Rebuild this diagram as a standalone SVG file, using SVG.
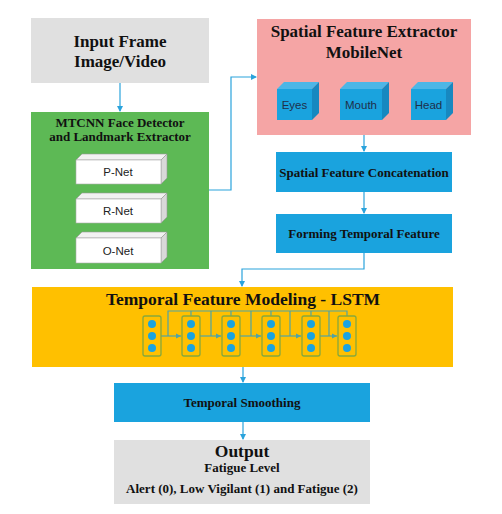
<svg xmlns="http://www.w3.org/2000/svg" width="502" height="514" viewBox="0 0 502 514">
<defs>
<style>
.t{font-family:"Liberation Serif","Times New Roman",serif;font-weight:bold;fill:#111;text-anchor:middle}
.s{font-family:"Liberation Sans",Arial,sans-serif;fill:#222;text-anchor:middle;font-size:11.5px}
.sb{font-family:"Liberation Sans",Arial,sans-serif;fill:#1f2f4a;text-anchor:middle;font-size:11.5px}
.c{stroke:#2aa3dc;stroke-width:1.2;fill:none}
.l{stroke:#4fa3a6;stroke-width:1.2;fill:none}
.cell{fill:#ffc000;stroke:#86a83c;stroke-width:1.3}
.dot{fill:#1aa3e0}
.blue{fill:#1aa3de}
</style>
<marker id="a" markerWidth="6" markerHeight="6" refX="5" refY="3" orient="auto" markerUnits="userSpaceOnUse">
<path d="M0,0 L6,3 L0,6 z" fill="#2aa3dc"/>
</marker>
<marker id="b" markerWidth="6" markerHeight="6" refX="5" refY="3" orient="auto" markerUnits="userSpaceOnUse">
<path d="M0,0.5 L5,3 L0,5.5 z" fill="#4fa3a6"/>
</marker>
</defs>
<rect width="502" height="514" fill="#ffffff"/>

<g id="connectors">
<path class="c" d="M120,83 V111" marker-end="url(#a)"/>
<path class="c" d="M209,190 H231 V77 H256" marker-end="url(#a)"/>
<path class="c" d="M364,135 V151" marker-end="url(#a)"/>
<path class="c" d="M364,192 V213" marker-end="url(#a)"/>
<path class="c" d="M364,253 V269 H242 V286" marker-end="url(#a)"/>
<path class="c" d="M243,367 V382" marker-end="url(#a)"/>
<path class="c" d="M243,422 V439" marker-end="url(#a)"/>
</g>

<g id="input">
<rect x="31" y="18" width="178" height="65" fill="#e0e0e0"/>
<text class="t" x="120" y="47" font-size="17">Input Frame</text>
<text class="t" x="120" y="67" font-size="17">Image/Video</text>
</g>

<g id="mtcnn">
<rect x="31" y="112" width="178" height="157" fill="#5db955"/>
<text class="t" x="120" y="127" font-size="13">MTCNN Face Detector</text>
<text class="t" x="120" y="141" font-size="13">and Landmark Extractor</text>
<g id="pnet">
<path d="M76,160 L82,154 H167 L161,160 z" fill="#f2f2f2" stroke="#999" stroke-width="0.6"/>
<path d="M161,160 L167,154 V178 L161,184 z" fill="#d9d9d9" stroke="#999" stroke-width="0.6"/>
<rect x="76" y="160" width="85" height="24" fill="#fff" stroke="#aaa" stroke-width="0.6"/>
<text class="s" x="118" y="176">P-Net</text>
</g>
<g id="rnet">
<path d="M76,199 L82,193 H167 L161,199 z" fill="#f2f2f2" stroke="#999" stroke-width="0.6"/>
<path d="M161,199 L167,193 V217 L161,223 z" fill="#d9d9d9" stroke="#999" stroke-width="0.6"/>
<rect x="76" y="199" width="85" height="24" fill="#fff" stroke="#aaa" stroke-width="0.6"/>
<text class="s" x="118" y="215">R-Net</text>
</g>
<g id="onet">
<path d="M76,238 L82,232 H167 L161,238 z" fill="#f2f2f2" stroke="#999" stroke-width="0.6"/>
<path d="M161,238 L167,232 V257 L161,263 z" fill="#d9d9d9" stroke="#999" stroke-width="0.6"/>
<rect x="76" y="238" width="85" height="25" fill="#fff" stroke="#aaa" stroke-width="0.6"/>
<text class="s" x="118" y="255">O-Net</text>
</g>
</g>

<g id="spatial">
<rect x="257" y="19" width="214" height="116" fill="#f5a5a5"/>
<text class="t" x="364" y="37" font-size="17">Spatial Feature Extractor</text>
<text class="t" x="364" y="58" font-size="17">MobileNet</text>
<g id="eyes">
<path d="M277,89 L284,82 H319 L312,89 z" fill="#4cb6e6"/>
<path d="M312,89 L319,82 V113 L312,120 z" fill="#1788c0"/>
<rect x="277" y="89" width="35" height="31" class="blue"/>
<text class="sb" x="294.5" y="109">Eyes</text>
</g>
<g id="mouth">
<path d="M340,89 L347,82 H389 L382,89 z" fill="#4cb6e6"/>
<path d="M382,89 L389,82 V113 L382,120 z" fill="#1788c0"/>
<rect x="340" y="89" width="42" height="31" class="blue"/>
<text class="sb" x="361" y="109">Mouth</text>
</g>
<g id="head">
<path d="M411,89 L418,82 H453 L446,89 z" fill="#4cb6e6"/>
<path d="M446,89 L453,82 V113 L446,120 z" fill="#1788c0"/>
<rect x="411" y="89" width="35" height="31" class="blue"/>
<text class="sb" x="428.5" y="109">Head</text>
</g>
</g>

<g id="concat">
<rect x="276" y="152" width="176" height="40" class="blue"/>
<text class="t" x="364" y="177" font-size="13">Spatial Feature Concatenation</text>
</g>

<g id="forming">
<rect x="276" y="214" width="176" height="39" class="blue"/>
<text class="t" x="364" y="238" font-size="13">Forming Temporal Feature</text>
</g>

<g id="lstm">
<rect x="32" y="287" width="421" height="80" fill="#ffc000"/>
<text class="t" x="243" y="305" font-size="17.5">Temporal Feature Modeling - LSTM</text>
<g id="lstm-links">
<path class="l" d="M168,336 V311 H347 V316"/>
<path class="l" d="M191,311 V316 M231,311 V316 M271,311 V316 M311,311 V316"/>
<path class="l" d="M211,311 V336 M251,311 V336 M290,311 V336 M329,311 V336"/>
<path class="l" d="M161,336 H181" marker-end="url(#b)"/>
<path class="l" d="M200,336 H221" marker-end="url(#b)"/>
<path class="l" d="M240,336 H261" marker-end="url(#b)"/>
<path class="l" d="M280,336 H301" marker-end="url(#b)"/>
<path class="l" d="M320,336 H337" marker-end="url(#b)"/>
</g>
<g id="cell1"><rect class="cell" x="143" y="316" width="18" height="40" rx="2"/><circle class="dot" cx="152" cy="324" r="4"/><circle class="dot" cx="152" cy="336" r="4"/><circle class="dot" cx="152" cy="348" r="4"/></g>
<g id="cell2"><rect class="cell" x="182" y="316" width="18" height="40" rx="2"/><circle class="dot" cx="191" cy="324" r="4"/><circle class="dot" cx="191" cy="336" r="4"/><circle class="dot" cx="191" cy="348" r="4"/></g>
<g id="cell3"><rect class="cell" x="222" y="316" width="18" height="40" rx="2"/><circle class="dot" cx="231" cy="324" r="4"/><circle class="dot" cx="231" cy="336" r="4"/><circle class="dot" cx="231" cy="348" r="4"/></g>
<g id="cell4"><rect class="cell" x="262" y="316" width="18" height="40" rx="2"/><circle class="dot" cx="271" cy="324" r="4"/><circle class="dot" cx="271" cy="336" r="4"/><circle class="dot" cx="271" cy="348" r="4"/></g>
<g id="cell5"><rect class="cell" x="302" y="316" width="18" height="40" rx="2"/><circle class="dot" cx="311" cy="324" r="4"/><circle class="dot" cx="311" cy="336" r="4"/><circle class="dot" cx="311" cy="348" r="4"/></g>
<g id="cell6"><rect class="cell" x="338" y="316" width="18" height="40" rx="2"/><circle class="dot" cx="347" cy="324" r="4"/><circle class="dot" cx="347" cy="336" r="4"/><circle class="dot" cx="347" cy="348" r="4"/></g>
</g>

<g id="smoothing">
<rect x="114" y="383" width="256" height="39" class="blue"/>
<text class="t" x="242" y="407" font-size="13">Temporal Smoothing</text>
</g>

<g id="output">
<rect x="114" y="440" width="256" height="64" fill="#e0e0e0"/>
<text class="t" x="242" y="457" font-size="17.5">Output</text>
<text class="t" x="242" y="472" font-size="13">Fatigue Level</text>
<text class="t" x="242" y="493" font-size="13">Alert (0), Low Vigilant (1) and Fatigue (2)</text>
</g>
</svg>
